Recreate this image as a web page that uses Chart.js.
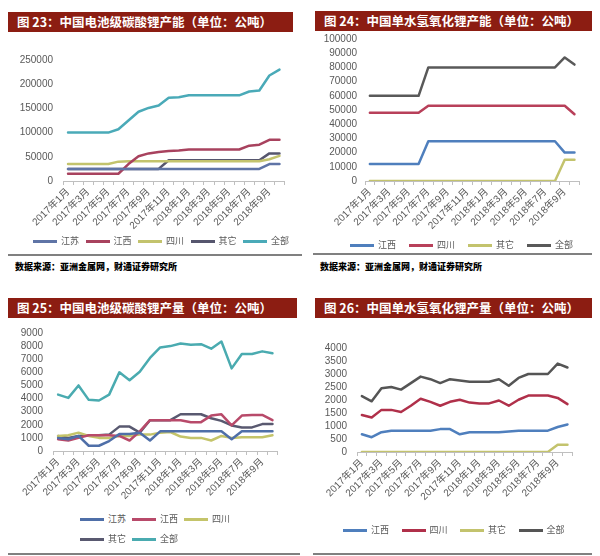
<!DOCTYPE html>
<html>
<head>
<meta charset="utf-8">
<script src="https://cdn.jsdelivr.net/npm/chart.js@4.4.1/dist/chart.umd.min.js"></script>
<style>
  body { margin: 0; background: #fff; width: 600px; height: 556px; position: relative; overflow: hidden;
         font-family: 'Noto Sans CJK SC', sans-serif; }
  canvas { position: absolute; }
  .title { position: absolute; height: 20px; background: #8c1d12; color: #fff; font-weight: 700;
           font-size: 12.5px; line-height: 20px; padding-left: 9px; box-sizing: border-box; white-space: nowrap; }
  .rule { position: absolute; height: 2px; background: #808080; }
  .src { position: absolute; font-size: 9px; font-weight: 900; color: #000; white-space: nowrap; line-height: 12px; }
  .leg { position: absolute; font-size: 9px; color: #595959; white-space: nowrap; display: flex;
         align-items: center; height: 12px; line-height: 12px; }
  .leg i { display: inline-block; width: 24px; height: 3px; margin-right: 4px; }
</style>
</head>
<body>
<div class="title" style="left:8px;top:12px;width:285px">图 23：中国电池级碳酸锂产能（单位：公吨）</div>
<div class="title" style="left:315px;top:11px;width:277px">图 24：中国单水氢氧化锂产能（单位：公吨）</div>
<div class="title" style="left:8px;top:298px;width:289px">图 25：中国电池级碳酸锂产量（单位：公吨）</div>
<div class="title" style="left:315px;top:298px;width:277px">图 26：中国单水氢氧化锂产量（单位：公吨）</div>

<canvas id="c23"></canvas>
<canvas id="c24"></canvas>
<canvas id="c25"></canvas>
<canvas id="c26"></canvas>

<div class="rule" style="left:8px;top:254px;width:294px"></div>
<div class="rule" style="left:313px;top:253px;width:279px"></div>
<div class="rule" style="left:8px;top:553px;width:292px"></div>
<div class="rule" style="left:313px;top:553px;width:279px"></div>
<div class="src" style="left:15px;top:261px">数据来源：亚洲金属网，财通证券研究所</div>
<div class="src" style="left:320px;top:261px">数据来源：亚洲金属网，财通证券研究所</div>

<script>
// months shown on every chart (labels only drawn for every other one)
const months = ['2017年1月', '2017年2月', '2017年3月', '2017年4月', '2017年5月', '2017年6月',
                '2017年7月', '2017年8月', '2017年9月', '2017年10月', '2017年11月', '2017年12月',
                '2018年1月', '2018年2月', '2018年3月', '2018年4月', '2018年5月', '2018年6月',
                '2018年7月', '2018年8月', '2018年9月', '2018年10月'];

// 图23 电池级碳酸锂产能
const cap23Jiangsu = [25000, 25000, 25000, 25000, 25000, 25000, 25000, 25000, 25000, 25000, 25000,
                      25000, 25000, 25000, 25000, 25000, 25000, 25000, 25000, 25000, 35000, 35000];
const cap23Jiangxi = [15000, 15000, 15000, 15000, 15000, 15000, 35000, 51000, 57000, 60000, 62000,
                      63000, 65000, 65000, 65000, 65000, 65000, 65000, 73000, 75000, 85000, 85000];
const cap23Sichuan = [35000, 35000, 35000, 35000, 35000, 40000, 41000, 41000, 41000, 41000, 41000,
                      41000, 41000, 41000, 41000, 41000, 41000, 41000, 41000, 41000, 45000, 52000];
const cap23Other   = [25000, 25000, 25000, 25000, 25000, 25000, 25000, 25000, 25000, 25000, 43000,
                      43000, 43000, 43000, 43000, 43000, 43000, 43000, 43000, 43000, 57000, 57000];
const cap23Total   = [100000, 100000, 100000, 100000, 100000, 107000, 125000, 143000, 151000, 156000, 172000,
                      173000, 177000, 177000, 177000, 177000, 177000, 177000, 185000, 187000, 218000, 230000];

// 图24 单水氢氧化锂产能
const cap24Jiangxi = [12000, 12000, 12000, 12000, 12000, 12000, 28000, 28000, 28000, 28000, 28000,
                      28000, 28000, 28000, 28000, 28000, 28000, 28000, 28000, 28000, 20000, 20000];
const cap24Sichuan = [48000, 48000, 48000, 48000, 48000, 48000, 53000, 53000, 53000, 53000, 53000,
                      53000, 53000, 53000, 53000, 53000, 53000, 53000, 53000, 53000, 53000, 47000];
const cap24Other   = [0, 0, 0, 0, 0, 0, 0, 0, 0, 0, 0,
                      0, 0, 0, 0, 0, 0, 0, 0, 0, 15000, 15000];
const cap24Total   = [60000, 60000, 60000, 60000, 60000, 60000, 80000, 80000, 80000, 80000, 80000,
                      80000, 80000, 80000, 80000, 80000, 80000, 80000, 80000, 80000, 87000, 82000];

// 图25 电池级碳酸锂产量
const out25Jiangsu = [1000, 900, 1150, 400, 400, 760, 1300, 1300, 1400, 800, 1500,
                      1500, 1500, 1500, 1500, 1500, 1500, 900, 1500, 1500, 1500, 1500];
const out25Jiangxi = [900, 800, 1000, 1200, 1200, 1200, 1150, 800, 1500, 2350, 2350,
                      2350, 2350, 2200, 2200, 2700, 2800, 1950, 2700, 2750, 2750, 2350];
const out25Sichuan = [1150, 1200, 1400, 1150, 1000, 1000, 1150, 1150, 1250, 1250, 1400,
                      1450, 1100, 1000, 1000, 800, 1150, 1000, 1050, 1050, 1050, 1200];
const out25Other   = [1150, 1000, 1150, 1200, 1200, 1250, 1860, 1860, 1400, 2350, 2350,
                      2350, 2800, 2800, 2800, 2500, 2300, 1950, 1800, 1800, 2050, 2050];
const out25Total   = [4300, 4050, 5000, 3900, 3850, 4300, 6000, 5400, 6050, 7100, 7900,
                      8000, 8200, 8100, 8150, 7800, 8350, 6300, 7400, 7400, 7600, 7450];

// 图26 单水氢氧化锂产量
const out26Jiangxi = [680, 570, 760, 820, 820, 820, 820, 820, 880, 880, 680,
                      760, 760, 760, 760, 790, 820, 820, 820, 820, 960, 1060];
const out26Sichuan = [1420, 1330, 1620, 1620, 1540, 1780, 2050, 1930, 1780, 1930, 2010,
                      1900, 1870, 1870, 1980, 1780, 2010, 2170, 2170, 2170, 2080, 1840];
const out26Other   = [0, 0, 0, 0, 0, 0, 0, 0, 0, 0, 0,
                      0, 0, 0, 0, 0, 0, 0, 0, 0, 280, 280];
const out26Total   = [2150, 1950, 2450, 2500, 2400, 2650, 2900, 2800, 2650, 2800, 2750,
                      2700, 2700, 2700, 2800, 2550, 2850, 3000, 3000, 3000, 3400, 3250];

// y axis ranges
const yAxis23 = { min: 0, max: 250000, step: 50000 };
const yAxis24 = { min: 0, max: 100000, step: 10000 };
const yAxis25 = { min: 0, max: 9000, step: 1000 };
const yAxis26 = { min: 0, max: 4000, step: 500 };

const tickFont = { family: "'Liberation Sans', 'Noto Sans CJK SC', sans-serif", size: 10 };
const monthFont = { family: "'Liberation Sans', 'Noto Sans CJK SC', sans-serif", size: 10 };

// g: cl = canvas left, pl/pr/pt/pb = plot box, cb = canvas bottom, lp = label gap
function lineChart(id, g, yAxis, series) {
    const cv = document.getElementById(id);
    const top = g.pt - 10;
    const w = g.pr - g.cl + 2, h = g.cb - top;
    cv.width = w; cv.height = h;
    cv.style.left = g.cl + 'px'; cv.style.top = top + 'px';
    cv.style.width = w + 'px'; cv.style.height = h + 'px';

    new Chart(cv, {
        type: 'line',
        data: {
            labels: months,
            datasets: series.map(s => ({
                label: s.name,
                data: s.data,
                borderColor: s.color,
                backgroundColor: s.color,
                borderWidth: 2.5,
                pointRadius: 0,
                tension: 0,
                borderJoinStyle: 'round',
                borderCapStyle: 'round',
                fill: false,
            })),
        },
        options: {
            responsive: false,
            animation: false,
            layout: { padding: { top: 10, right: 2, left: 0, bottom: 0 } },
            plugins: { legend: { display: false }, tooltip: { enabled: false } },
            scales: {
                x: {
                    offset: true,
                    grid: { display: true, drawOnChartArea: false, drawTicks: true, tickLength: 4,
                            color: '#bfbfbf', offset: true },
                    border: { display: true, color: '#bfbfbf' },
                    ticks: {
                        autoSkip: false, minRotation: 45, maxRotation: 45, padding: 1,
                        color: '#595959', font: monthFont,
                        callback: (v, i) => (i % 2 === 0 ? months[i] : ''),
                    },
                    afterFit: s => { s.height = g.cb - g.pb; },
                },
                y: {
                    min: yAxis.min, max: yAxis.max,
                    grid: { display: false, drawTicks: false },
                    border: { display: false },
                    ticks: { stepSize: yAxis.step, autoSkip: false, padding: g.lp, color: '#595959',
                             font: tickFont, callback: v => String(v) },
                    afterFit: s => { s.width = g.pl - g.cl; },
                },
            },
        },
    });
}

function legend(x0, y0, step, perRow, rowGap, series) {
    series.forEach((s, k) => {
        const d = document.createElement('div');
        d.className = 'leg';
        d.style.left = (x0 + (k % perRow) * step) + 'px';
        d.style.top = (y0 - 6 + Math.floor(k / perRow) * rowGap) + 'px';
        d.innerHTML = '<i style="background:' + s.color + '"></i>' + s.name;
        document.body.appendChild(d);
    });
}

const s23 = [
    { name: '江苏', data: cap23Jiangsu, color: '#5f74a6' },
    { name: '江西', data: cap23Jiangxi, color: '#a8425e' },
    { name: '四川', data: cap23Sichuan, color: '#c3c36d' },
    { name: '其它', data: cap23Other, color: '#56566e' },
    { name: '全部', data: cap23Total, color: '#4aaab8' },
];
const s24 = [
    { name: '江西', data: cap24Jiangxi, color: '#4f7fbd' },
    { name: '四川', data: cap24Sichuan, color: '#b8405a' },
    { name: '其它', data: cap24Other, color: '#c3c36d' },
    { name: '全部', data: cap24Total, color: '#595959' },
];
const s25 = [
    { name: '江苏', data: out25Jiangsu, color: '#4f6fa8' },
    { name: '江西', data: out25Jiangxi, color: '#b84a6a' },
    { name: '四川', data: out25Sichuan, color: '#c4c46a' },
    { name: '其它', data: out25Other, color: '#595970' },
    { name: '全部', data: out25Total, color: '#4aabb0' },
];
const s26 = [
    { name: '江西', data: out26Jiangxi, color: '#4f7fbd' },
    { name: '四川', data: out26Sichuan, color: '#b0304a' },
    { name: '其它', data: out26Other, color: '#c3c36d' },
    { name: '全部', data: out26Total, color: '#555555' },
];

lineChart('c23', { cl: 10, pl: 63, pr: 287, pt: 54, pb: 181, cb: 238, lp: 10 }, yAxis23, s23);
lineChart('c24', { cl: 312, pl: 365, pr: 582, pt: 35, pb: 181, cb: 238, lp: 8 }, yAxis24, s24);
lineChart('c25', { cl: 5, pl: 53, pr: 280, pt: 327, pb: 451, cb: 508, lp: 10 }, yAxis25, s25);
lineChart('c26', { cl: 310, pl: 357, pr: 575, pt: 342, pb: 452, cb: 515, lp: 10 }, yAxis26, s26);

legend(33, 241, 52.5, 5, 0, s23);
legend(350, 245, 59, 4, 0, s24);
legend(80, 519, 52, 3, 20, s25);
legend(343, 530, 58.5, 4, 0, s26);
</script>
</body>
</html>
